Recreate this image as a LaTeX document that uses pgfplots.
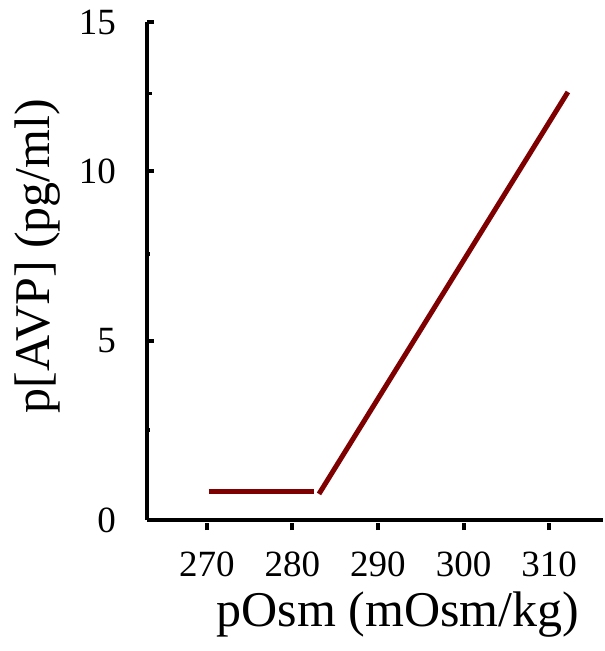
\documentclass[border=0pt]{standalone}
\usepackage{pgfplots}
\pgfplotsset{compat=1.18}
\usepackage{fontspec}
\setmainfont{Liberation Serif}
\definecolor{avpred}{HTML}{7F0000}

\begin{document}
\begin{tikzpicture}
\begin{axis}[
    scale only axis,
    width=228pt, height=249pt,
    xmin=263, xmax=316.3,
    ymin=0, ymax=15,
    % the drawn y scale is slightly compressed towards the top
    y coord trafo/.code={\pgfmathparse{36.133*#1-0.013333*#1*#1*#1}},
    axis x line*=bottom,
    axis y line*=left,
    axis line style={line width=2.4pt, -},
    xtick={270,280,290,300,310},
    ytick={0,5,10,15},
    yticklabels={0,5,10,15},
    minor ytick={12.5},
    extra y ticks={2.5,7.5},
    extra y tick labels={},
    extra y tick style={major tick length=1.5pt, tick style={line width=0.6pt}},
    /pgf/number format/assume math mode=true,
    ticklabel style={font=\fontsize{18.5}{20}\selectfont},
    x tick style={line width=2pt, black, yshift=-1.5pt},
    y tick style={line width=2pt, black},
    minor y tick style={line width=1.5pt},
    x tick label style={yshift=-9pt},
    y tick label style={xshift=-12pt},
    major tick length=3.5pt,
    minor tick length=2.5pt,
    xtick align=outside,
    ytick align=inside,
    xlabel={pOsm (mOsm/kg)},
    ylabel={p[AVP] (pg/ml)},
    label style={font=\fontsize{25}{28}\selectfont},
    xlabel style={at={(axis description cs:0.55,-0.19)}, anchor=center},
    ylabel style={at={(axis description cs:-0.24,0.53)}, anchor=center},
    clip=false
]
\addplot[avpred, line width=2.5pt] coordinates {(270.2,0.8) (282.5,0.8)};
\addplot[avpred, line width=2.5pt] coordinates {(283.1,0.72) (312.2,12.55)};
\end{axis}
\pgfresetboundingbox
\path[use as bounding box] (-73.5pt,-65.5pt) rectangle (228.5pt,260pt);
\end{tikzpicture}
\end{document}
